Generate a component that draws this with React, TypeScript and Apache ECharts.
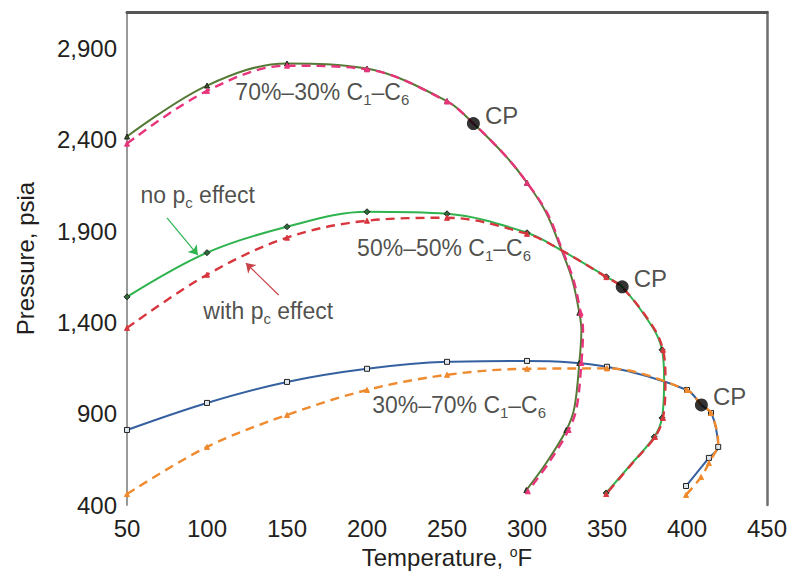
import { useEffect, useRef } from 'react';
import * as echarts from 'echarts';

const FONT = '"Liberation Sans", Arial, Helvetica, sans-serif';
const INK = '#231f20';

// Phase envelopes, [temperature °F, pressure psia]
// 70%–30% C1–C6
const noPc70: [number, number][] = [
  [50, 2418], [100, 2697], [150, 2818], [200, 2790], [250, 2612], [266.5, 2489],
  [287, 2308], [300, 2165], [312, 2001], [321.5, 1798], [328.3, 1634], [332.7, 1453],
  [334, 1359], [332.7, 1178], [329.6, 932], [324.6, 811], [312, 630], [299.6, 482],
];
const withPc70: [number, number][] = [
  [50, 2379], [100, 2668], [150, 2806], [200, 2786], [250, 2610], [266.5, 2489],
  [287, 2308], [300, 2165], [312.5, 2001], [322, 1798], [329, 1634], [333.5, 1453],
  [335, 1359], [334, 1178], [331, 932], [326, 811], [313.5, 630], [300.5, 475],
];
const marks70 = [0, 1, 2, 3, 4, 7, 11, 13, 15, 17];

// 50%–50% C1–C6
const noPc50: [number, number][] = [
  [50, 1540], [100, 1782], [150, 1924], [200, 2006], [250, 1995], [300, 1891],
  [321.5, 1795], [349.6, 1650], [359.5, 1595], [378.3, 1376], [384.4, 1250],
  [385.7, 1085], [384.4, 877], [379.5, 773], [365.7, 630], [349.5, 466],
];
const withPc50: [number, number][] = [
  [50, 1370], [100, 1661], [150, 1864], [200, 1957], [250, 1973], [300, 1885],
  [321.5, 1795], [349.6, 1648], [359.5, 1592], [378.5, 1380], [385, 1250],
  [386.5, 1085], [385, 877], [380, 773], [366, 630], [349.5, 460],
];
const marks50 = [0, 1, 2, 3, 4, 5, 7, 10, 12, 13, 15];

// 30%–70% C1–C6
const noPc30: [number, number][] = [
  [50, 811], [100, 959], [150, 1074], [200, 1146], [250, 1184], [300, 1189],
  [350, 1157], [400, 1030], [409, 948], [415, 904], [418.3, 811], [419.5, 718],
  [413.7, 658], [399.4, 504],
];
const withPc30: [number, number][] = [
  [50, 460], [100, 718], [150, 893], [200, 1030], [250, 1113], [300, 1146],
  [350, 1148], [400, 1030], [409, 948], [415, 904], [419.5, 740], [413.7, 630],
  [408.8, 553], [399.4, 455],
];
const marks30 = [0, 1, 2, 3, 4, 5, 6, 7, 9, 11, 12, 13];

// Critical points
const criticalPoints: [number, number][] = [[266.5, 2489], [359.5, 1595], [409, 948]];

// Curve notes: text and left‑middle anchor in data units
const noteTexts = [
  '70%–30% C{sub|1}–C{sub|6}',
  '50%–50% C{sub|1}–C{sub|6}',
  '30%–70% C{sub|1}–C{sub|6}',
  'no p{sub|c} effect',
  'with p{sub|c} effect',
];
const noteAnchors: [number, number][] = [
  [117.4, 2662], [193.5, 1807], [202.9, 948], [58.1, 2098], [97.4, 1462],
];

// Pointer arrows [from, to]
const arrowNoPc: [number, number][] = [[75, 1972], [94.3, 1769]];
const arrowWithPc: [number, number][] = [[144.8, 1550], [124.3, 1725]];

const richText = {
  sub: {
    fontSize: 15,
    fontFamily: FONT,
    color: INK,
    lineHeight: 15,
    verticalAlign: 'bottom',
  },
};

function curve(
  name: string,
  pts: [number, number][],
  marks: number[],
  color: string,
  dashed: boolean,
  symbol: string,
  symbolSize: number,
  markColor: string,
  extra: Record<string, unknown> = {}
) {
  return {
    name,
    type: 'line',
    smooth: 0.35,
    showSymbol: true,
    showAllSymbol: true,
    symbol,
    symbolSize,
    z: dashed ? 4 : 3,
    itemStyle: { color: markColor, borderColor: dashed ? color : '#222', borderWidth: 1 },
    lineStyle: { color, width: dashed ? 2.4 : 2, type: dashed ? [9, 6] : 'solid' },
    data: pts.map((p, i) => ({ value: p, symbol: marks.includes(i) ? symbol : 'none' })),
    ...extra,
  };
}

function arrowLine(pts: [number, number][], color: string) {
  return {
    silent: true,
    symbolSize: 9,
    label: { show: false },
    lineStyle: { color, width: 1.2, type: 'solid' },
    data: [[{ coord: pts[0], symbol: 'none' }, { coord: pts[1], symbol: 'arrow' }]],
  };
}

export default function App() {
  const ref = useRef<HTMLDivElement>(null);

  useEffect(() => {
    if (!ref.current) return;
    const chart = echarts.init(ref.current, undefined, { renderer: 'svg' });

    const option = {
      animation: false,
      backgroundColor: '#ffffff',
      grid: { left: 127, right: 26, top: 12, bottom: 71, containLabel: false },
      xAxis: [
        {
          type: 'value',
          min: 50,
          max: 450,
          interval: 50,
          name: 'Temperature, {sup|o}F',
          nameLocation: 'middle',
          nameGap: 40,
          nameTextStyle: {
            fontSize: 24,
            fontFamily: FONT,
            color: INK,
            lineHeight: 24,
            rich: {
              sup: { fontSize: 14, fontFamily: FONT, color: INK, lineHeight: 14, verticalAlign: 'top' },
            },
          },
          axisLine: { show: false },
          axisTick: { show: false },
          splitLine: { show: false },
          axisLabel: { fontSize: 24, fontFamily: FONT, color: INK, margin: 11 },
        },
        {
          type: 'value',
          position: 'top',
          min: 50,
          max: 450,
          axisLine: { show: true, onZero: false, lineStyle: { color: '#555', width: 3 } },
          axisTick: { show: false },
          axisLabel: { show: false },
          splitLine: { show: false },
        },
      ],
      yAxis: [
        {
          type: 'value',
          min: 400,
          max: 3100,
          interval: 100,
          name: 'Pressure, psia',
          nameLocation: 'middle',
          nameGap: 90,
          nameTextStyle: { fontSize: 24, fontFamily: FONT, color: INK },
          axisLine: { show: true, onZero: false, lineStyle: { color: '#9a9a9a', width: 2 } },
          axisTick: { show: false },
          splitLine: { show: false },
          axisLabel: {
            fontSize: 24,
            fontFamily: FONT,
            color: INK,
            margin: 10,
            formatter: (v: number) => ((v - 400) % 500 === 0 ? v.toLocaleString('en-US') : ''),
          },
        },
        {
          type: 'value',
          position: 'right',
          min: 400,
          max: 3100,
          axisLine: { show: true, onZero: false, lineStyle: { color: '#6e6e6e', width: 2.5 } },
          axisTick: { show: false },
          axisLabel: { show: false },
          splitLine: { show: false },
        },
      ],
      series: [
        curve('70-30 no pc', noPc70, marks70, '#557a35', false, 'triangle', 5, '#3d5a25'),
        curve('50-50 no pc', noPc50, marks50, '#2fb34f', false, 'diamond', 6, '#2e6b3a', {
          markLine: arrowLine(arrowNoPc, '#2fb34f'),
        }),
        curve('30-70 no pc', noPc30, marks30, '#3560a0', false, 'rect', 5, '#dfe6ee'),
        curve('70-30 with pc', withPc70, marks70, '#e8347a', true, 'triangle', 5, '#e8347a'),
        curve('50-50 with pc', withPc50, marks50, '#d8363e', true, 'triangle', 5, '#d8363e', {
          markLine: arrowLine(arrowWithPc, '#c9424a'),
        }),
        curve('30-70 with pc', withPc30, marks30, '#ef8a2e', true, 'triangle', 5, '#ef8a2e'),
        {
          name: 'CP',
          type: 'scatter',
          symbol: 'circle',
          symbolSize: 13,
          z: 6,
          itemStyle: { color: '#000' },
          label: {
            show: true,
            position: 'right',
            distance: 5,
            offset: [0, -8],
            formatter: 'CP',
            fontSize: 24,
            fontFamily: FONT,
            color: INK,
          },
          data: criticalPoints,
        },
        {
          name: 'notes',
          type: 'scatter',
          symbolSize: 1,
          z: 7,
          silent: true,
          itemStyle: { color: 'rgba(0,0,0,0)' },
          label: {
            show: true,
            position: 'right',
            distance: 0,
            fontSize: 23,
            fontFamily: FONT,
            color: INK,
            lineHeight: 30,
            formatter: (p: { name: string }) => p.name,
            rich: richText,
          },
          data: noteAnchors.map((a, i) => ({ value: a, name: noteTexts[i] })),
        },
      ],
    };

    chart.setOption(option as echarts.EChartsOption);
    return () => chart.dispose();
  }, []);

  return (
    <div
      ref={ref}
      style={{ position: 'fixed', left: 0, top: 0, width: 793, height: 576, background: '#fff' }}
    />
  );
}
